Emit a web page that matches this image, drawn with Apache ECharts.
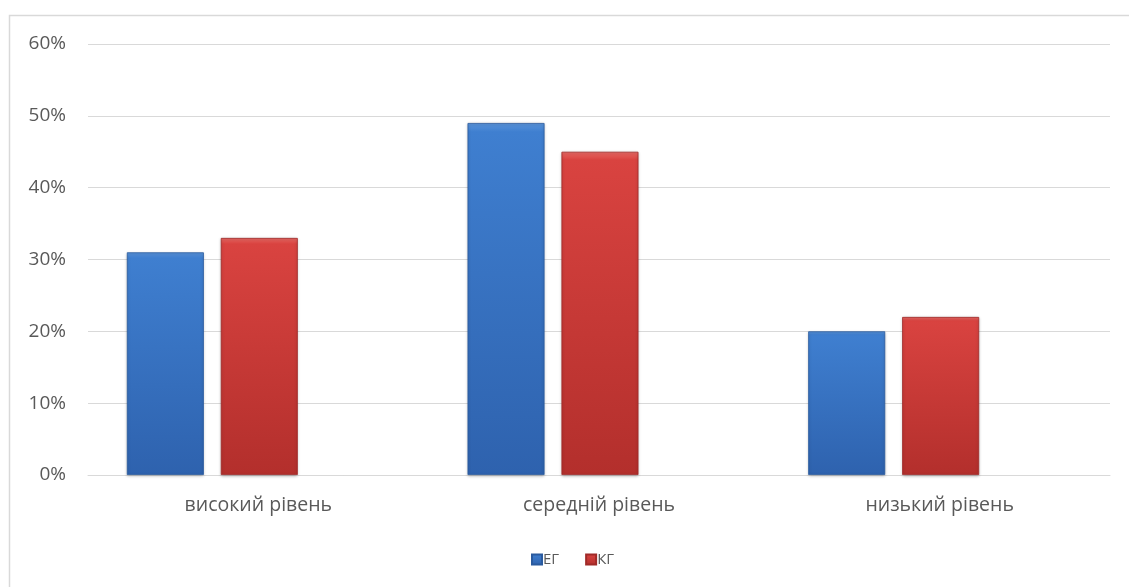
<!DOCTYPE html>
<html>
<head>
<meta charset="utf-8">
<script src="https://cdn.jsdelivr.net/npm/echarts@6/dist/echarts.min.js"></script>
<style>
  html, body { margin: 0; padding: 0; background: #ffffff; }
  #chart { width: 1129px; height: 587px; }
</style>
</head>
<body>
<div id="chart"></div>
<script>
// Categories, series and tick labels
const categories = ['високий рівень', 'середній рівень', 'низький рівень'];
const seriesNames = ['ЕГ', 'КГ'];
const valuesEG = [31, 49, 20];
const valuesKG = [33, 45, 22];
const yTicks = [0, 10, 20, 30, 40, 50, 60];

const blueFill = new echarts.graphic.LinearGradient(0, 0, 0, 1, [
  { offset: 0, color: '#5b95dc' },
  { offset: 0.025, color: '#3f7fd0' },
  { offset: 1, color: '#2e62ae' }
]);
const redFill = new echarts.graphic.LinearGradient(0, 0, 0, 1, [
  { offset: 0, color: '#ea6a66' },
  { offset: 0.025, color: '#d94340' },
  { offset: 1, color: '#b32f2c' }
]);

const labelFont = 'Open Sans, DejaVu Sans, sans-serif';
const yMin = yTicks[0];
const yMax = yTicks[yTicks.length - 1];
const yStep = yTicks[1] - yTicks[0];

const chart = echarts.init(document.getElementById('chart'), null, { renderer: 'canvas' });

chart.setOption({
  backgroundColor: '#ffffff',
  animation: false,
  graphic: [{
    type: 'rect',
    shape: { x: 9.5, y: 15.5, width: 1200, height: 700 },
    style: { fill: 'none', stroke: '#d9d9d9', lineWidth: 1.5 },
    z: -1
  }],
  legend: {
    data: seriesNames,
    left: 526,
    top: 547,
    icon: 'rect',
    itemWidth: 10,
    itemHeight: 10,
    itemGap: 26,
    textStyle: { color: '#595959', fontSize: 15, fontFamily: labelFont, padding: [0, 0, 0, -4] }
  },
  grid: [
    { left: 88, right: 19, top: 44, bottom: 112, containLabel: false },
    { left: 42, right: 65, top: 44, bottom: 112, containLabel: false }
  ],
  xAxis: [
    {
      gridIndex: 0,
      type: 'category',
      data: categories,
      axisLine: { show: true, lineStyle: { color: '#d9d9d9', width: 1 } },
      axisTick: { show: false },
      axisLabel: { color: '#595959', fontSize: 19.5, fontFamily: labelFont, margin: 20 }
    },
    {
      gridIndex: 1,
      type: 'category',
      data: categories,
      show: false
    }
  ],
  yAxis: [
    {
      gridIndex: 0,
      type: 'value',
      min: yMin, max: yMax, interval: yStep,
      axisLine: { show: false },
      axisTick: { show: false },
      splitLine: { lineStyle: { color: '#d9d9d9', width: 1 } },
      axisLabel: {
        color: '#595959', fontSize: 19, fontFamily: labelFont, margin: 22,
        formatter: v => v + '%'
      }
    },
    {
      gridIndex: 1,
      type: 'value',
      min: yMin, max: yMax, interval: yStep,
      show: false
    }
  ],
  series: [
    {
      name: seriesNames[0],
      type: 'bar',
      xAxisIndex: 1,
      yAxisIndex: 1,
      data: valuesEG,
      barWidth: 77,
      barGap: '22%',
      itemStyle: {
        color: blueFill,
        borderColor: '#2a5a9e',
        borderWidth: 0.8,
        shadowColor: 'rgba(0,0,0,0.25)',
        shadowBlur: 3,
        shadowOffsetY: 1
      }
    },
    {
      name: seriesNames[1],
      type: 'bar',
      xAxisIndex: 1,
      yAxisIndex: 1,
      data: valuesKG,
      barWidth: 77,
      barGap: '22%',
      itemStyle: {
        color: redFill,
        borderColor: '#a02a28',
        borderWidth: 0.8,
        shadowColor: 'rgba(0,0,0,0.25)',
        shadowBlur: 3,
        shadowOffsetY: 1
      }
    }
  ]
});
</script>
</body>
</html>
